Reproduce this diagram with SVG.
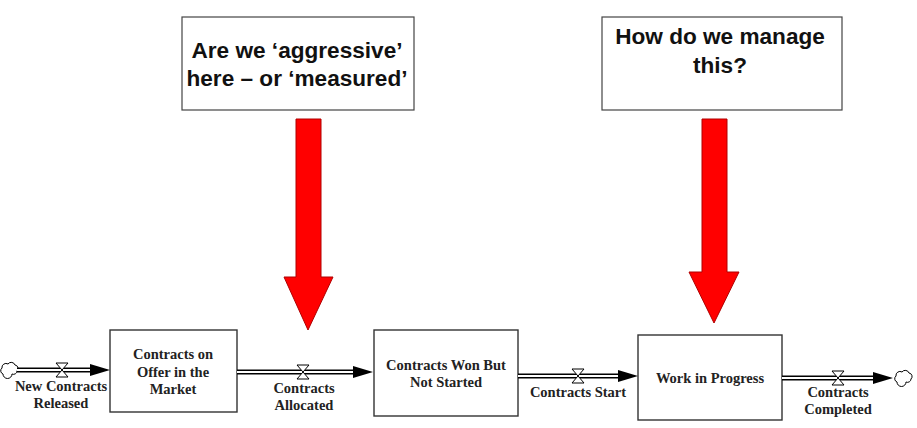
<svg xmlns="http://www.w3.org/2000/svg" xmlns:xlink="http://www.w3.org/1999/xlink" width="917" height="428" viewBox="0 0 917 428">
<style>
.q{fill:#fff;stroke:#444;stroke-width:1.2}
.qt{font-family:"Liberation Sans",Arial,sans-serif;font-weight:bold;font-size:22.6px;fill:#111;text-anchor:middle}
.red{fill:#ff0000;stroke:#b00000;stroke-width:1}
.stock{fill:#fff;stroke:#333;stroke-width:1.4}
.st{font-family:"Liberation Serif","Times New Roman",serif;font-weight:bold;font-size:14.5px;fill:#222;text-anchor:middle}
.pipeo{stroke:#000;stroke-width:5;fill:none}
.pipei{stroke:#fff;stroke-width:2;fill:none}
.head{fill:#000}
.cloud{fill:#fff;stroke:#000;stroke-width:1}
</style>
<defs>
<path id="valve" d="M-6,-7 H6 L-6,7 H6 L-6,-7 Z" fill="#fff" stroke="#000" stroke-width="1"/>
<path id="cloudshape" d="M-6,4 a3.5,3.5 0 0 1 -1,-6 a4,4 0 0 1 6,-4 a4,4 0 0 1 7,1 a3.5,3.5 0 0 1 2,6 a3.5,3.5 0 0 1 -5,3 a4,4 0 0 1 -9,0 z" class="cloud"/>
</defs>

<g id="question1">
<rect class="q" x="182" y="17" width="232" height="93"/>
<text class="qt" x="297" y="58">Are we ‘aggressive’</text>
<text class="qt" x="297" y="86">here – or ‘measured’</text>
</g>
<g id="question2">
<rect class="q" x="602" y="17" width="240" height="93"/>
<text class="qt" x="720" y="44">How do we manage</text>
<text class="qt" x="720" y="73">this?</text>
</g>
<g id="redarrow1">
<polygon class="red" points="296,119 321,119 321,277 333,277 308,330 284,277 296,277"/>
</g>
<g id="redarrow2">
<polygon class="red" points="702,119 727,119 727,272 739,272 714,323 689,272 702,272"/>
</g>

<g id="stock1">
<rect class="stock" x="110" y="330" width="127" height="82"/>
<text class="st" x="173" y="359">Contracts on</text>
<text class="st" x="173" y="377">Offer in the</text>
<text class="st" x="173" y="394">Market</text>
</g>
<g id="stock2">
<rect class="stock" x="374" y="330" width="144" height="86"/>
<text class="st" x="446" y="370">Contracts Won But</text>
<text class="st" x="446" y="387">Not Started</text>
</g>
<g id="stock3">
<rect class="stock" x="638" y="335" width="144" height="85"/>
<text class="st" x="710" y="383">Work in Progress</text>
</g>
<g id="source">
<use href="#cloudshape" x="9" y="370"/>
</g>
<g id="sink">
<use href="#cloudshape" x="903" y="378"/>
</g>

<g id="connectors">
<g id="flow1">
<path class="pipeo" d="M17,370 H92"/><path class="pipei" d="M17,370 H92"/>
<polygon class="head" points="90,364 110,370 90,376"/>
<use href="#valve" x="62" y="370"/>
<text class="st" x="61" y="391">New Contracts</text>
<text class="st" x="61" y="408">Released</text>
</g>
<g id="flow2">
<path class="pipeo" d="M237,372 H355"/><path class="pipei" d="M237,372 H355"/>
<polygon class="head" points="353,366 373,372 353,378"/>
<use href="#valve" x="303" y="372"/>
<text class="st" x="304" y="393">Contracts</text>
<text class="st" x="304" y="410">Allocated</text>
</g>
<g id="flow3">
<path class="pipeo" d="M518,376 H620"/><path class="pipei" d="M518,376 H620"/>
<polygon class="head" points="618,370 638,376 618,382"/>
<use href="#valve" x="578" y="376"/>
<text class="st" x="578" y="397">Contracts Start</text>
</g>
<g id="flow4">
<path class="pipeo" d="M782,378 H875"/><path class="pipei" d="M782,378 H875"/>
<polygon class="head" points="873,372 893,378 873,384"/>
<use href="#valve" x="838" y="378"/>
<text class="st" x="838" y="397">Contracts</text>
<text class="st" x="838" y="414">Completed</text>
</g>
</g>
</svg>
